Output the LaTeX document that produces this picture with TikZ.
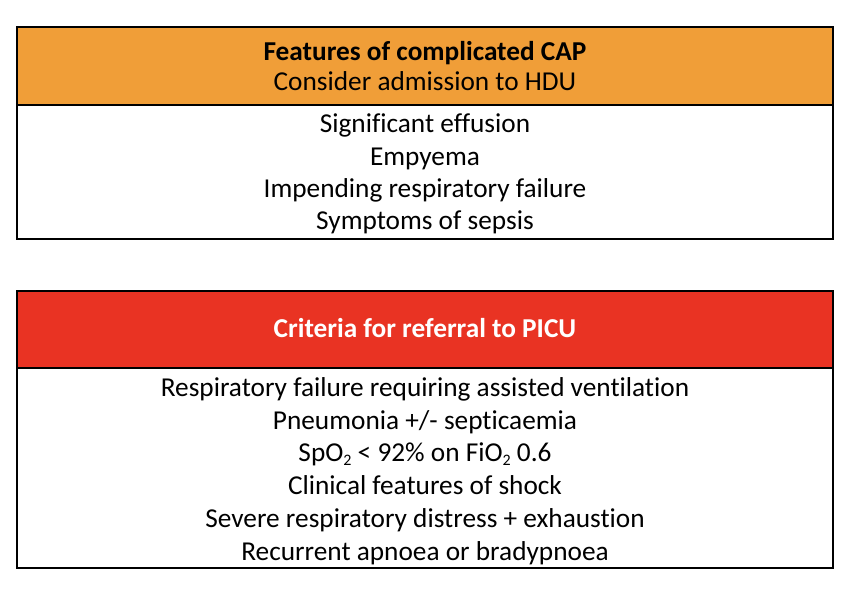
\documentclass[tikz,border=0pt]{standalone}
\usepackage{fontspec}
\setmainfont[Ligatures=NoCommon]{Carlito}
\definecolor{hduorange}{RGB}{240,158,56}
\definecolor{picured}{RGB}{233,51,35}
\newcommand{\lowsub}[1]{\raisebox{-0.17em}{\fontsize{16}{16}\selectfont #1}}
\tikzset{
  px/.style={x=1pt,y=-1pt},
  boxline/.style={draw=black,line width=2.6pt},
  txt/.style={anchor=base,inner sep=0pt,font=\fontsize{27.3}{31}\selectfont},
  hdr/.style={txt,font=\fontsize{27.3}{31}\selectfont\bfseries},
}
\begin{document}
\begin{tikzpicture}[px]
\useasboundingbox (0,0) rectangle (856,592);
% top box
\fill[hduorange] (17,27) rectangle (833,105);
\draw[boxline] (17,27) rectangle (833,239);
\draw[boxline] (17,105) -- (833,105);
\node[hdr] (t1) at (425,60) {Features of complicated CAP};
\node[txt] (t2) at (425,90) {Consider admission to HDU};
\node[txt] (a1) at (425,132) {Significant effusion};
\node[txt] (a2) at (425,165) {Empyema};
\node[txt] (a3) at (425,197) {Impending respiratory failure};
\node[txt] (a4) at (425,229) {Symptoms of sepsis};
% bottom box
\fill[picured] (17,291) rectangle (833,368);
\draw[boxline] (17,291) rectangle (833,568);
\draw[boxline] (17,368) -- (833,368);
\node[hdr,text=white] (b0) at (425,337) {Criteria for referral to PICU};
\node[txt] (b1) at (425,396) {Respiratory failure requiring assisted ventilation};
\node[txt] (b2) at (425,429) {Pneumonia +/- septicaemia};
\node[txt] (b3) at (425,461) {SpO\lowsub{2} < 92\% on FiO\lowsub{2} 0.6};
\node[txt] (b4) at (425,494) {Clinical features of shock};
\node[txt] (b5) at (425,527) {Severe respiratory distress + exhaustion};
\node[txt] (b6) at (425,560) {Recurrent apnoea or bradypnoea};
\end{tikzpicture}
\end{document}
